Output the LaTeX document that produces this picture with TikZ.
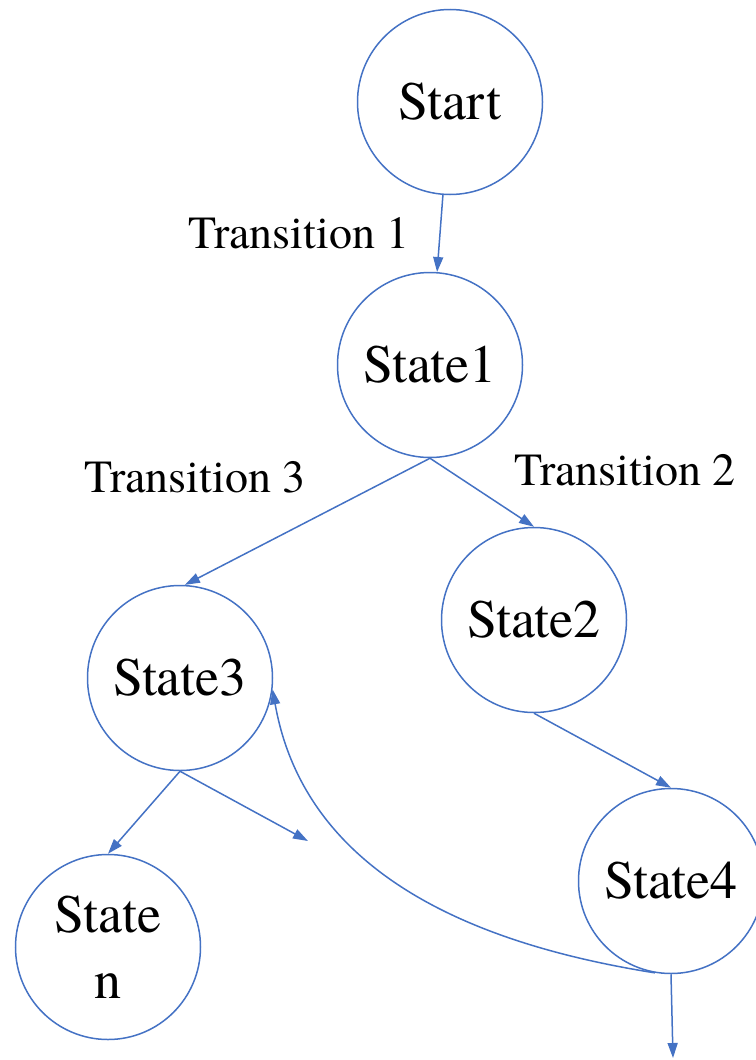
\documentclass[tikz,border=0pt]{standalone}
\usepackage{fontspec}
\setmainfont{texgyretermes-regular.otf}
\usetikzlibrary{arrows.meta}
\definecolor{stateblue}{RGB}{68,114,196}

\begin{document}
\begin{tikzpicture}[x=0.5pt,y=0.5pt,
state/.style={circle,draw=stateblue,line width=0.75pt,minimum size=92.5pt,inner sep=0pt,align=center,font=\fontsize{27}{33}\selectfont},
trans/.style={font=\fontsize{23}{27}\selectfont,inner sep=0pt},
flow/.style={draw=stateblue,line width=0.75pt,-{Triangle[length=7.5pt,width=5pt]}}
]
\useasboundingbox (0,0) rectangle (755,-1060);
\node (start)  [state] at (450,-102) {Start};
\node (state1) [state] at (430,-365) {State1};
\node (state2) [state] at (534,-620) {State2};
\node (state3) [state] at (180,-678) {State3};
\node (state4) [state] at (671,-881) {State4};
\node (staten) [state] at (108,-947) {State\\n};
\node (t1) [trans] at (299,-233) {Transition 1};
\node (t3) [trans] at (195,-477) {Transition 3};
\node (t2) [trans] at (625,-470) {Transition 2};
\coordinate (open3) at (308,-841);
\coordinate (open4) at (673,-1058);
\draw[flow] (start) -- (state1);
\draw[flow] (state1.south) -- (state3.87);
\draw[flow] (state1.south) -- (state2.north);
\draw[flow] (state2.south) -- (state4.north);
\draw[flow] (state3.south) -- (staten.north);
\draw[flow] (state3.south) -- (open3);
\draw[flow] (state4.south) -- (open4);
\draw[flow] (state4.-100) to[out=171,in=-80] (state3.-7);
\end{tikzpicture}
\end{document}
